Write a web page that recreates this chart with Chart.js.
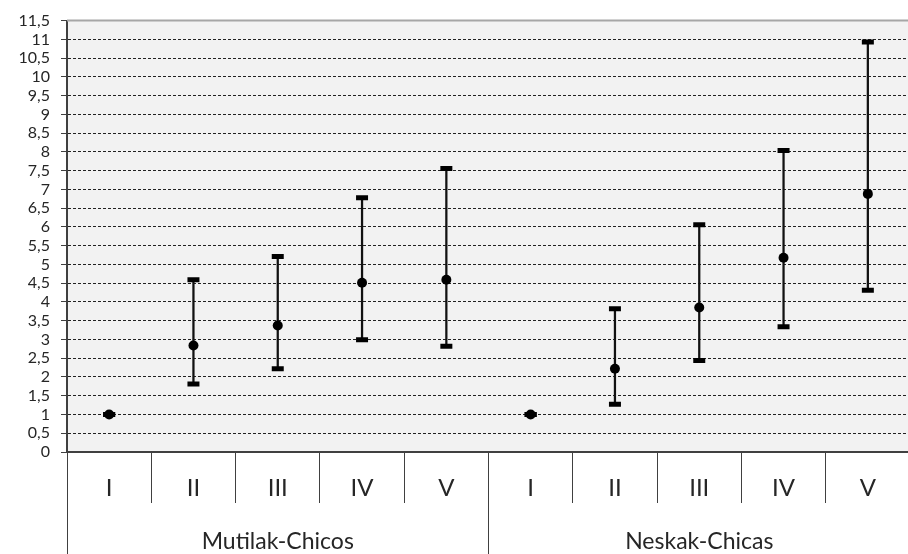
<!DOCTYPE html>
<html>
<head>
<meta charset="utf-8">
<script src="https://cdn.jsdelivr.net/npm/chart.js@4"></script>
<style>
  html, body { margin: 0; padding: 0; background: #fff; overflow: hidden; }
  #wrap { width: 908px; height: 554px; overflow: hidden; }
</style>
</head>
<body>
<div id="wrap"><canvas id="grafico" width="921" height="554"></canvas></div>
<script>
// categorie e gruppi (asse a due livelli)
const categorie = ['I', 'II', 'III', 'IV', 'V', 'I', 'II', 'III', 'IV', 'V']
const gruppi = ['Mutilak-Chicos', 'Neskak-Chicas']

// valori
const medie = [1, 2.84, 3.37, 4.51, 4.59, 1, 2.22, 3.85, 5.18, 6.88]
const massimi = [1, 4.59, 5.21, 6.78, 7.56, 1, 3.82, 6.06, 8.04, 10.93]
const minimi = [1, 1.81, 2.22, 2.99, 2.82, 1, 1.27, 2.44, 3.34, 4.31]

// asse y
const yMin = 0
const yMax = 11.5
const yPasso = 0.5

const font = 'Lato, "Open Sans", sans-serif'

const fondo = {
    id: 'fondo',
    beforeDraw: (chart) => {
        let ctx = chart.ctx
        let a = chart.chartArea
        ctx.save()
        ctx.fillStyle = '#f2f2f2'
        ctx.fillRect(a.left, a.top, a.right - a.left, a.bottom - a.top)
        ctx.restore()
    },
    beforeDatasetsDraw: (chart) => {
        let ctx = chart.ctx
        let a = chart.chartArea
        ctx.save()
        ctx.strokeStyle = '#a6a6a6'
        ctx.lineWidth = 2
        ctx.beginPath()
        ctx.moveTo(a.left, a.top)
        ctx.lineTo(a.right, a.top)
        ctx.stroke()
        ctx.restore()
    }
}

new Chart(document.getElementById('grafico'), {
    type: 'bar',
    data: {
        labels: categorie,
        datasets: [
            {
                type: 'line',
                label: 'media',
                data: medie,
                showLine: false,
                pointStyle: 'circle',
                pointRadius: 5,
                pointBackgroundColor: '#000',
                pointBorderColor: '#000',
                pointBorderWidth: 0,
                order: 0
            },
            {
                type: 'line',
                label: 'max',
                data: massimi,
                showLine: false,
                pointStyle: 'line',
                pointRadius: 6,
                pointBorderWidth: 5,
                pointBorderColor: '#000',
                order: 1
            },
            {
                type: 'line',
                label: 'min',
                data: minimi,
                showLine: false,
                pointStyle: 'line',
                pointRadius: 6,
                pointBorderWidth: 5,
                pointBorderColor: '#000',
                order: 1
            },
            {
                label: 'intervallo',
                data: minimi.map((m, i) => [m, massimi[i]]),
                backgroundColor: '#111',
                borderWidth: 0,
                barThickness: 1.6,
                order: 2
            }
        ]
    },
    options: {
        responsive: false,
        animation: false,
        layout: { padding: { top: 19, right: 0, left: 0, bottom: 0 } },
        plugins: {
            legend: { display: false },
            tooltip: { enabled: false }
        },
        scales: {
            x: {
                position: 'bottom',
                weight: 0,
                offset: true,
                grid: {
                    offset: true,
                    drawOnChartArea: false,
                    tickLength: 51,
                    color: '#404040',
                    lineWidth: 1
                },
                border: { color: '#404040', width: 2 },
                ticks: {
                    padding: -29,
                    color: '#262626',
                    font: { family: font, size: 24 },
                    maxRotation: 0,
                    autoSkip: false
                },
                afterFit: (scale) => { scale.height = 51 }
            },
            gruppi: {
                type: 'category',
                labels: gruppi,
                position: 'bottom',
                weight: 1,
                offset: true,
                grid: {
                    offset: true,
                    drawOnChartArea: false,
                    tickLength: 51,
                    color: '#404040',
                    lineWidth: 1
                },
                border: { display: false },
                ticks: {
                    padding: -26,
                    color: '#262626',
                    font: { family: font, size: 23 },
                    maxRotation: 0
                },
                afterFit: (scale) => { scale.height = 51 }
            },
            y: {
                min: yMin,
                max: yMax,
                grid: {
                    color: (c) => (c.tick && c.tick.value === yMax) ? 'rgba(0,0,0,0)' : '#222',
                    tickColor: '#404040',
                    tickLength: 6,
                    tickBorderDash: [],
                    lineWidth: 1
                },
                border: { color: '#404040', width: 2, dash: [3, 2] },
                ticks: {
                    stepSize: yPasso,
                    autoSkip: false,
                    padding: 11,
                    color: '#262626',
                    font: { family: font, size: 16 },
                    callback: (v) => String(v).replace('.', ',')
                },
                afterFit: (scale) => { scale.width = 67 }
            }
        }
    },
    plugins: [fondo]
})
</script>
</body>
</html>
